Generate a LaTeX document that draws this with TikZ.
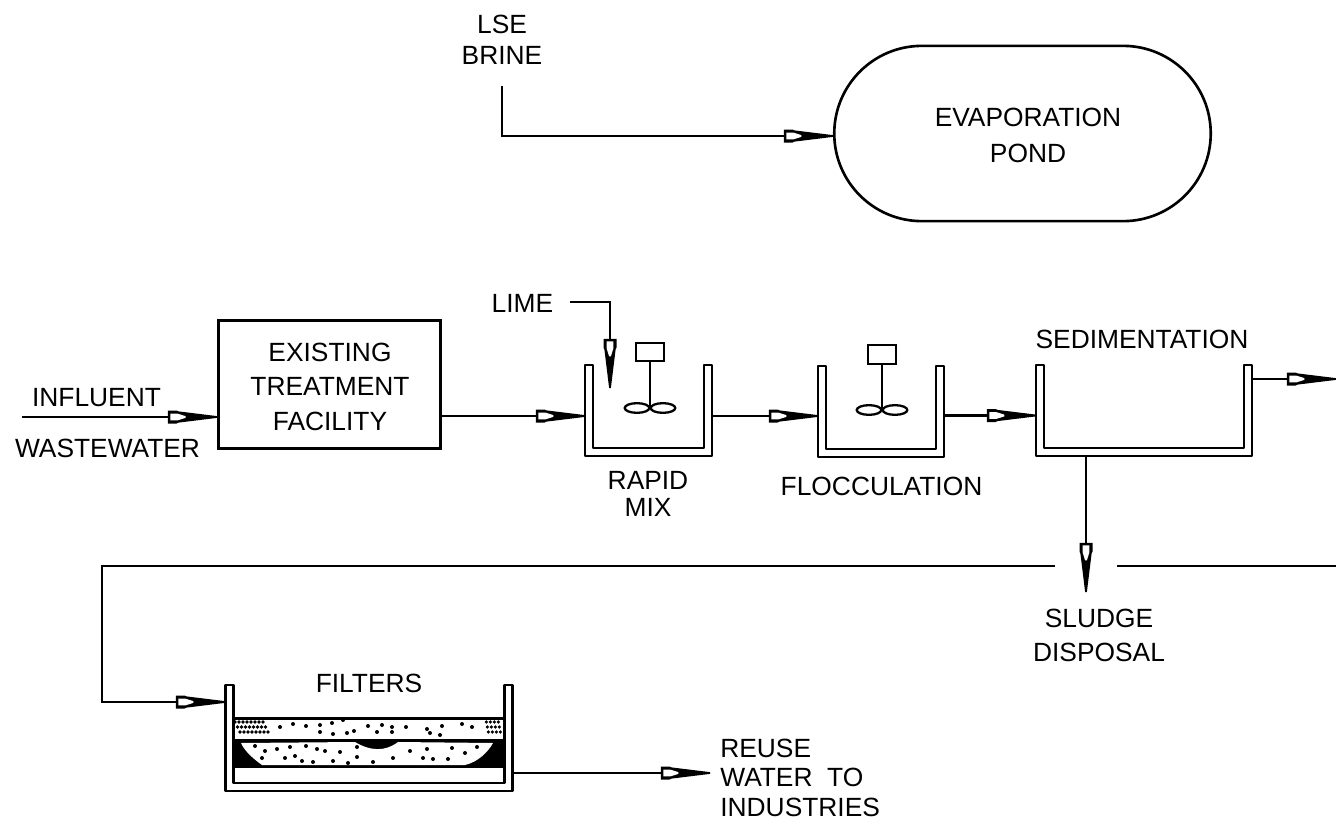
\documentclass[tikz,border=0pt]{standalone}
\usepackage{fontspec}
\setmainfont{Liberation Sans}
\usetikzlibrary{calc,shapes.misc,shapes.geometric,arrows.meta}

\pgfdeclarearrow{
    name=FlowTip,
    setup code={
        \pgfarrowssettipend{0pt}
        \pgfarrowssetlineend{-27pt}
        \pgfarrowssetvisualbackend{-28pt}
        \pgfarrowssetbackend{-28pt}
    },
    drawing code={
        \pgfpathmoveto{\pgfqpoint{0pt}{0.5pt}}
        \pgfpathlineto{\pgfqpoint{-22pt}{3.2pt}}
        \pgfpathlineto{\pgfqpoint{-23pt}{3.7pt}}
        \pgfpathlineto{\pgfqpoint{-28pt}{3.7pt}}
        \pgfpathlineto{\pgfqpoint{-28pt}{-3.7pt}}
        \pgfpathlineto{\pgfqpoint{-23pt}{-3.7pt}}
        \pgfpathlineto{\pgfqpoint{-22pt}{-3.2pt}}
        \pgfpathlineto{\pgfqpoint{0pt}{-0.5pt}}
        \pgfpathclose
        \pgfsetfillcolor{black}
        \pgfusepathqfill
        \pgfpathmoveto{\pgfqpoint{-18pt}{0.5pt}}
        \pgfpathlineto{\pgfqpoint{-22.5pt}{1.9pt}}
        \pgfpathlineto{\pgfqpoint{-26.6pt}{1.9pt}}
        \pgfpathlineto{\pgfqpoint{-26.6pt}{-1.9pt}}
        \pgfpathlineto{\pgfqpoint{-22.5pt}{-1.9pt}}
        \pgfpathlineto{\pgfqpoint{-18pt}{-0.5pt}}
        \pgfpathclose
        \pgfsetfillcolor{white}
        \pgfusepathqfill
    }
}

\tikzset{
    caption/.style={font=\fontsize{15}{16}\selectfont, align=center, inner sep=0pt},
    flow/.style={line width=1.6pt, ->, >=FlowTip},
    pipe/.style={line width=1.6pt},
    wall/.style={line width=1.5pt, line join=round},
    tank/.style={inner sep=0pt, minimum height=91*0.5669pt},
    motor/.style={draw, line width=1.3pt, inner sep=0pt, minimum width=16pt, minimum height=10.5pt},
    blade/.style={draw, line width=1.3pt, ellipse, inner sep=0pt, minimum width=14pt, minimum height=5.5pt}
}

% double wall of an open basin
\newcommand{\basinwall}[1]{
    \draw[wall] (#1.north west) -- (#1.south west) -- (#1.south east) -- (#1.north east)
        -- ++(-8,0) -- ($(#1.south east)+(-8,-8)$) -- ($(#1.south west)+(8,-8)$)
        -- ($(#1.north west)+(8,0)$) -- cycle;
}

\begin{document}
\begin{tikzpicture}[x=0.02cm,y=-0.02cm]
    \useasboundingbox (0,0) rectangle (1336,822);

    \node[draw, line width=1.5pt, rounded rectangle, inner sep=0pt, minimum width=378*0.5669pt, minimum height=176*0.5669pt] (pond) at (1022.5,133.5) {};
    \node[draw, line width=1.5pt, inner sep=0pt, minimum width=223*0.5669pt, minimum height=129*0.5669pt] (exist) at (329.5,384.5) {};

    \node[tank, minimum width=127*0.5669pt] (rapid) at (648.5,410.5) {};
    \node[tank, minimum width=126*0.5669pt] (floc) at (881,411.5) {};
    \node[tank, minimum width=216*0.5669pt] (sed) at (1144,410.5) {};
    \node[tank, minimum width=288*0.5669pt, minimum height=106*0.5669pt] (filter) at (369,738) {};

    \node[caption] (lse) at (502,39.5) {LSE\\[1.6pt]BRINE};
    \node[caption] (evap) at (1028,135.5) {EVAPORATION\\[4.1pt]POND};
    \node[caption] (exlabel) at (330,387) {EXISTING\\[3.3pt]TREATMENT\\[4.4pt]FACILITY};
    \node[caption] (influent) at (96.5,398) {INFLUENT};
    \node[caption] (waste) at (107.5,448) {WASTEWATER};
    \node[caption] (lime) at (522.5,303) {LIME};
    \node[caption] (rapidlabel) at (648,493.5) {RAPID\\[-0.7pt]MIX};
    \node[caption] (floclabel) at (881.5,486.5) {FLOCCULATION};
    \node[caption] (sedlabel) at (1142,339) {SEDIMENTATION};
    \node[caption] (sludge) at (1099,635) {SLUDGE\\[3.3pt]DISPOSAL};
    \node[caption] (filterlabel) at (369,683) {FILTERS};
    \node[caption, align=left, anchor=west] (reuse) at (720,778) {REUSE\\[0.4pt]WATER~ TO\\[1.6pt]INDUSTRIES};

    \coordinate (lseout) at (502,86);
    \coordinate (pondin) at (833,136);
    \coordinate (inflow) at (22,417);
    \coordinate (rapidin) at (585,416);
    \coordinate (flocin) at (818,416);
    \coordinate (sedin) at (1036,415.5);
    \coordinate (limeout) at (570,302);
    \coordinate (limein) at (610,388);
    \coordinate (sedout) at (1336,379);
    \coordinate (sludgeend) at (1086,592);
    \coordinate (mainright) at (1336,566);
    \coordinate (gapright) at (1117,566);
    \coordinate (gapleft) at (1055,566);
    \coordinate (maincorner) at (102,566);
    \coordinate (filterin) at (225,702);
    \coordinate (reuseend) at (710,773);

    \basinwall{rapid}
    \basinwall{floc}
    \basinwall{sed}
    \basinwall{filter}

    % mixers
    \foreach \tk/\mx/\my/\by in {rapid/650/352/408,floc/882/354.5/410}{
        \node[motor] (\tk motor) at (\mx,\my) {};
        \node[blade] (\tk bladel) at (\mx-13,\by) {};
        \node[blade] (\tk blader) at (\mx+13,\by) {};
        \draw[line width=1.3pt] (\tk motor.south) -- (\mx,\by);
    }

    % filter bed
    \fill (233,717) rectangle (505,767);
    \fill[white] (235,720) rectangle (503,739);
    \fill[white] (241,743) -- (355,742) .. controls (370,751) and (385,752) .. (398,742)
        -- (493,743) .. controls (488,752) and (478,762) .. (465,765)
        -- (262,765) .. controls (255,760) and (245,752) .. (241,743) -- cycle;
    \draw[line width=1pt] (233,740) -- (505,740);
    \draw[line width=1pt] (233,767) -- (505,767);
    \foreach \px/\py in {255/746,265/751,277/749,290/747,306/746,317/749,325/751,340/752,357/747,410/751,427/749,452/748,465/753,477/747,
        262/758,285/758,295/756,302/761,313/762,333/761,348/763,357/757,373/762,393/758,423/758,433/759,448/759,
        280/727,293/724,306/726,320/725,332/723,343/720,368/726,382/725,392/727,406/727,427/729,442/726,462/724,472/727,
        320/732,333/734,347/733,354/731,377/732,392/732,430/733,440/735}{
        \fill (\px,\py) circle (2);
    }
    \foreach \px in {236,240,...,264}{
        \foreach \py in {722,727,732}{
            \fill (\px+\py/2-362,\py) circle (1.8);
        }
    }
    \foreach \px in {488,492,...,500}{
        \foreach \py in {722,727,732}{
            \fill (\px+\py/5-146,\py) circle (1.8);
        }
    }

    \path[draw,flow] (lseout) |- (pondin);
    \path[draw,flow] (inflow) -- (exist.west |- inflow);
    \path[draw,flow] (exist.east |- rapidin) -- (rapidin);
    \path[draw,flow] (limeout) -| (limein);
    \path[draw,flow] (rapid.east |- flocin) -- (flocin);
    \path[draw,flow] (floc.east |- sedin) -- (sedin);
    \path[draw,flow] (sed.east |- sedout) -- (sedout);
    \path[draw,flow] (sed.south -| sludgeend) -- (sludgeend);
    \path[draw,pipe] (mainright) -- (gapright);
    \path[draw,flow] (gapleft) -- (maincorner) |- (filterin);
    \path[draw,flow] (filter.east |- reuseend) -- (reuseend);
\end{tikzpicture}
\end{document}
